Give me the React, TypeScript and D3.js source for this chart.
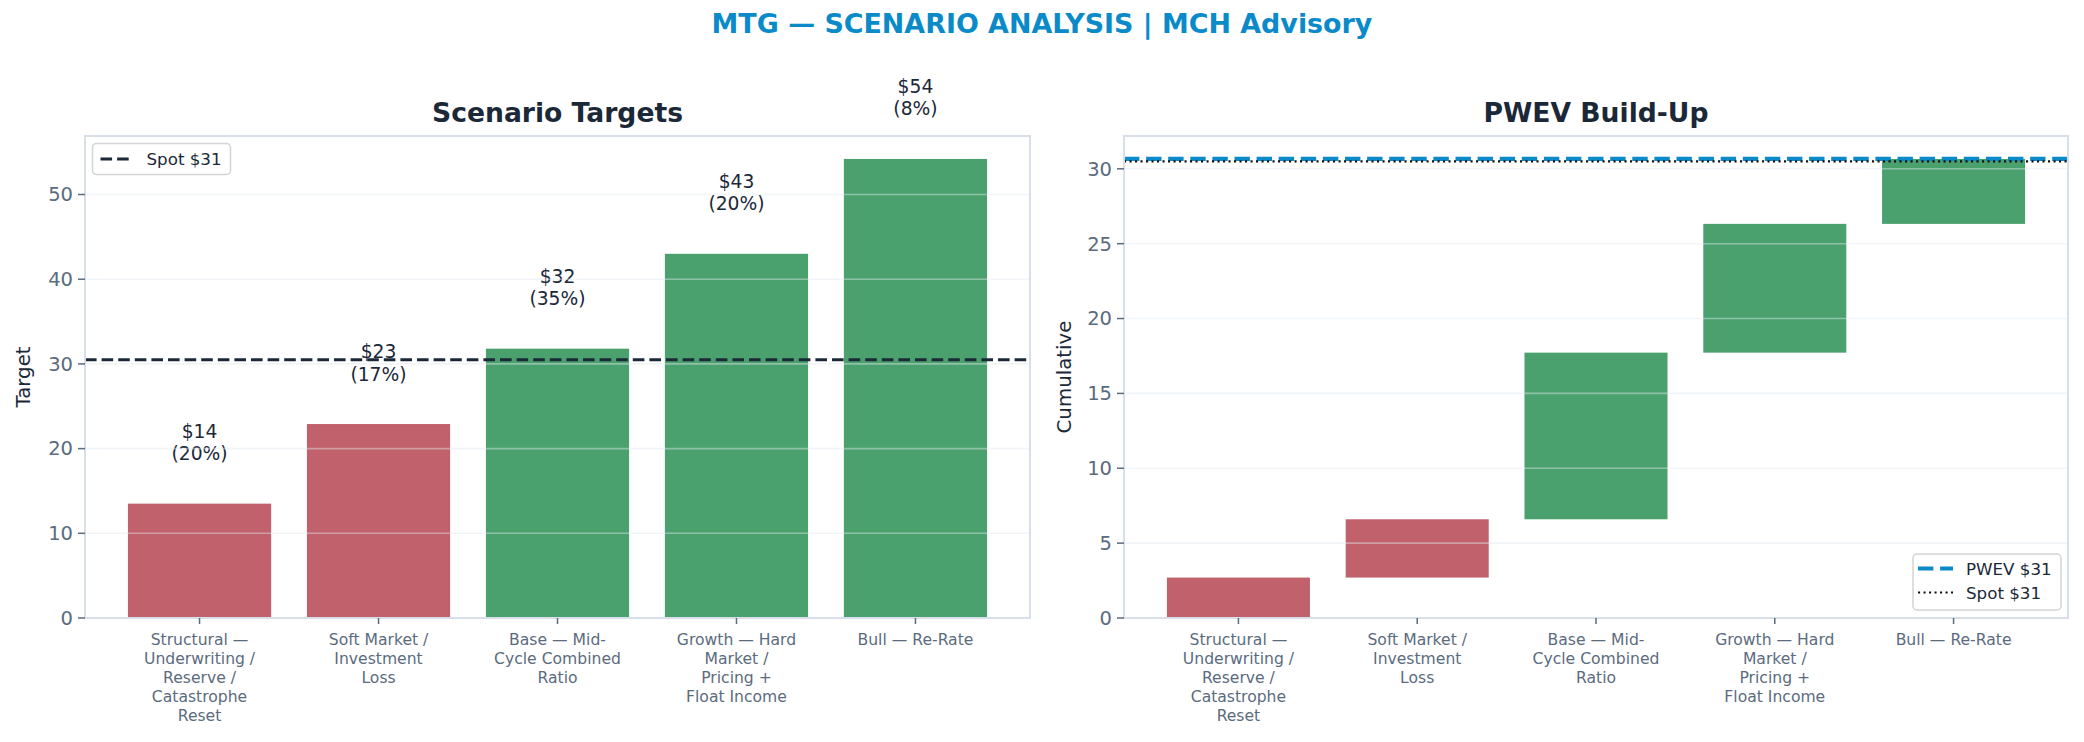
import * as d3 from 'd3'

const WIDTH = 2084
const HEIGHT = 742
const FONT = '"DejaVu Sans", sans-serif'

const SUPTITLE = 'MTG — SCENARIO ANALYSIS | MCH Advisory'
const scenarios = [
  'Structural — Underwriting / Reserve / Catastrophe Reset',
  'Soft Market / Investment Loss',
  'Base — Mid-Cycle Combined Ratio',
  'Growth — Hard Market / Pricing + Float Income',
  'Bull — Re-Rate',
]
const targets = [13.5, 22.9, 31.8, 43.0, 54.2]
const probabilities = [0.2, 0.17, 0.35, 0.2, 0.08]
const spot = 30.5

const RED = '#c0616b'
const GREEN = '#4aa16e'
const INK = '#1b2838'
const MUTED = '#5b6b7e'
const SPINE = '#d9dfe8'
const BLUE = '#0a8ac9'

const TOP = 136
const BOTTOM = 618
const PANELS = [
  { left: 85, right: 1030 },
  { left: 1124, right: 2068 },
]

// textwrap-like wrapping, breaks at spaces and after hyphens
function wrap(label: string, width = 14) {
  const pieces: { text: string; space: boolean }[] = []
  label.split(' ').forEach((w, wi) => {
    w.split(/(?<=-)(?=\w)/).forEach((p, pi) => pieces.push({ text: p, space: wi > 0 && pi === 0 }))
  })
  const lines: string[] = []
  let cur = ''
  for (const p of pieces) {
    const cand = cur === '' ? p.text : cur + (p.space ? ' ' : '') + p.text
    if (cand.length <= width || cur === '') cur = cand
    else {
      lines.push(cur)
      cur = p.text
    }
  }
  if (cur) lines.push(cur)
  return lines
}

const fmt = (v: number) => `$${Math.round(v)}`

const bandScale = (left: number, right: number) =>
  d3
    .scaleBand<number>()
    .domain(scenarios.map((_, i) => i))
    .range([left, right])
    .paddingInner(0.2)
    .paddingOuter(0.24)

function Frame({
  left,
  right,
  y,
  ticks,
  title,
  yLabel,
  labelX,
  children,
}: {
  left: number
  right: number
  y: d3.ScaleLinear<number, number>
  ticks: number[]
  title: string
  yLabel: string
  labelX: number
  children: React.ReactNode
}) {
  const x = bandScale(left, right)
  return (
    <g>
      {children}
      {/* grid over the bars */}
      {ticks.map((t) => (
        <line key={t} x1={left} x2={right} y1={y(t)} y2={y(t)} stroke="#e3e8ee" strokeOpacity={0.45} strokeWidth={1.6} />
      ))}
      <rect x={left} y={TOP} width={right - left} height={BOTTOM - TOP} fill="none" stroke={SPINE} strokeWidth={2} />
      {ticks.map((t) => (
        <g key={t} transform={`translate(${left},${y(t)})`}>
          <line x1={-7} x2={0} stroke={MUTED} strokeWidth={1.5} />
          <text x={-12} dy="0.35em" textAnchor="end" fontSize={19.5} fill={MUTED}>
            {t}
          </text>
        </g>
      ))}
      {scenarios.map((s, i) => {
        const cx = x(i)! + x.bandwidth() / 2
        return (
          <g key={s} transform={`translate(${cx},${BOTTOM})`}>
            <line y1={0} y2={6} stroke={MUTED} strokeWidth={1.5} />
            <text textAnchor="middle" fontSize={15.6} fill={MUTED}>
              {wrap(s).map((l, j) => (
                <tspan key={j} x={0} y={27 + j * 19}>
                  {l}
                </tspan>
              ))}
            </text>
          </g>
        )
      })}
      <text x={(left + right) / 2} y={122} textAnchor="middle" fontSize={26.6} fontWeight="bold" fill={INK}>
        {title}
      </text>
      <text
        transform={`translate(${labelX},${(TOP + BOTTOM) / 2}) rotate(-90)`}
        textAnchor="middle"
        fontSize={19.8}
        fill={INK}
      >
        {yLabel}
      </text>
    </g>
  )
}

function ScenarioTargets() {
  const { left, right } = PANELS[0]
  const x = bandScale(left, right)
  const y = d3.scaleLinear([0, d3.max(targets)! * 1.05], [BOTTOM, TOP])
  return (
    <Frame left={left} right={right} y={y} ticks={y.ticks(6)} title="Scenario Targets" yLabel="Target" labelX={30}>
      {targets.map((v, i) => (
        <rect
          key={i}
          x={x(i)}
          y={y(v)}
          width={x.bandwidth()}
          height={BOTTOM - y(v)}
          fill={v < spot ? RED : GREEN}
        />
      ))}
      <line x1={left} x2={right} y1={y(spot)} y2={y(spot)} stroke={INK} strokeWidth={3} strokeDasharray="11.6 5" />
      {targets.map((v, i) => (
        <text key={i} textAnchor="middle" fontSize={18.7} fill={INK}>
          <tspan x={x(i)! + x.bandwidth() / 2} y={y(v) - 66}>
            {fmt(v)}
          </tspan>
          <tspan x={x(i)! + x.bandwidth() / 2} y={y(v) - 43.5}>
            ({Math.round(probabilities[i] * 100)}%)
          </tspan>
        </text>
      ))}
      <g transform={`translate(${left + 7.5},${TOP + 7.5})`}>
        <rect width={138} height={31} rx={4} fill="#fff" fillOpacity={0.85} stroke="#d4d4d4" strokeWidth={1.5} />
        <line x1={8} x2={37} y1={15.5} y2={15.5} stroke={INK} strokeWidth={3} strokeDasharray="11.6 5" />
        <text x={54} y={21.5} fontSize={16.7} fill={INK}>
          Spot {fmt(spot)}
        </text>
      </g>
    </Frame>
  )
}

function PwevBuildUp() {
  const { left, right } = PANELS[1]
  const x = bandScale(left, right)
  const contrib = targets.map((v, i) => v * probabilities[i])
  const ends = d3.cumsum(contrib)
  const pwev = ends[ends.length - 1]
  const y = d3.scaleLinear([0, pwev * 1.05], [BOTTOM, TOP])
  return (
    <Frame left={left} right={right} y={y} ticks={y.ticks(7)} title="PWEV Build-Up" yLabel="Cumulative" labelX={1071}>
      {contrib.map((c, i) => {
        const start = ends[i] - c
        return (
          <rect
            key={i}
            x={x(i)}
            y={y(ends[i])}
            width={x.bandwidth()}
            height={y(start) - y(ends[i])}
            fill={targets[i] < spot ? RED : GREEN}
          />
        )
      })}
      <line x1={left} x2={right} y1={y(pwev)} y2={y(pwev)} stroke={BLUE} strokeWidth={4.2} strokeDasharray="15.4 6.7" />
      <line x1={left} x2={right} y1={y(spot)} y2={y(spot)} stroke="#111" strokeWidth={2.1} strokeDasharray="2.1 3.4" />
      <g transform={`translate(${right - 155},${BOTTOM - 64})`}>
        <rect width={148} height={56} rx={4} fill="#fff" fillOpacity={0.85} stroke="#d4d4d4" strokeWidth={1.5} />
        <line x1={5} x2={40} y1={14.5} y2={14.5} stroke={BLUE} strokeWidth={4.2} strokeDasharray="15.4 6.7" />
        <text x={53} y={20.5} fontSize={16.7} fill={INK}>
          PWEV {fmt(pwev)}
        </text>
        <line x1={5} x2={40} y1={38.5} y2={38.5} stroke="#111" strokeWidth={2.1} strokeDasharray="2.1 3.4" />
        <text x={53} y={44.5} fontSize={16.7} fill={INK}>
          Spot {fmt(spot)}
        </text>
      </g>
    </Frame>
  )
}

export default function App() {
  return (
    <div style={{ position: 'absolute', left: 0, top: 0 }}>
      <svg width={WIDTH} height={HEIGHT} viewBox={`0 0 ${WIDTH} ${HEIGHT}`} style={{ display: 'block', fontFamily: FONT }}>
        <rect width={WIDTH} height={HEIGHT} fill="#fff" />
        <text x={WIDTH / 2} y={33} textAnchor="middle" fontSize={26.9} fontWeight="bold" fill={BLUE}>
          {SUPTITLE}
        </text>
        <ScenarioTargets />
        <PwevBuildUp />
      </svg>
    </div>
  )
}
